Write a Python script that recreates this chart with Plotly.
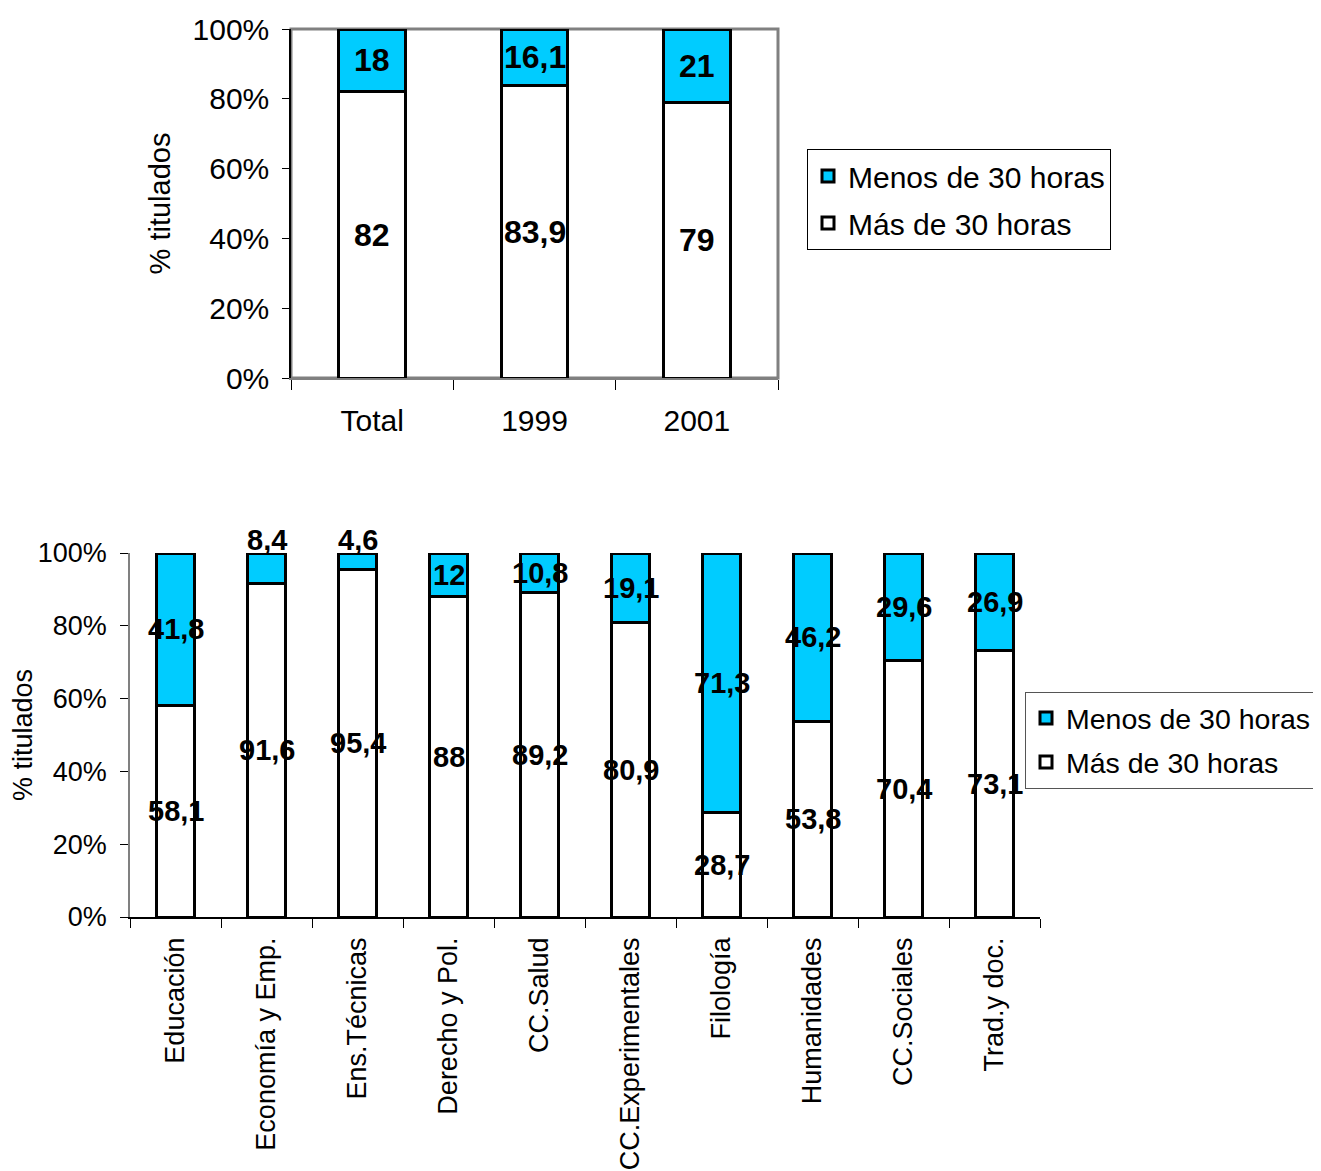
import plotly.graph_objects as go

# ---------------- data ----------------
top_categories = ["Total", "1999", "2001"]
top_menos = [18, 16.1, 21]
top_mas = [82, 83.9, 79]

bottom_categories = ["Educación", "Economía y Emp.", "Ens.Técnicas", "Derecho y Pol.",
                     "CC.Salud", "CC.Experimentales", "Filología", "Humanidades",
                     "CC.Sociales", "Trad.y doc."]
bottom_menos = [41.8, 8.4, 4.6, 12, 10.8, 19.1, 71.3, 46.2, 29.6, 26.9]
bottom_mas = [58.1, 91.6, 95.4, 88, 89.2, 80.9, 28.7, 53.8, 70.4, 73.1]

y_ticks = [0, 20, 40, 60, 80, 100]
y_ticktext = ["%d%%" % v for v in y_ticks]
name_menos = "Menos de 30 horas"
name_mas = "Más de 30 horas"
y_title = "% titulados"

CYAN = "#00CCFF"
FONT = "Liberation Sans, Arial, sans-serif"
W, H = 1321, 1171
OFF = 8  # page body margin


def px(x):
    return (x - OFF) / W


def py(y):
    return 1 - (y - OFF) / H


def fmt(v):
    return ("%g" % v).replace(".", ",")


fig = go.Figure()

line = dict(color="black", width=3)
fig.add_trace(go.Bar(x=top_categories, y=top_mas, name=name_mas, marker=dict(color="white", line=line),
                     xaxis="x", yaxis="y", legend="legend", legendgroup="a1", legendrank=2))
fig.add_trace(go.Bar(x=top_categories, y=top_menos, name=name_menos, marker=dict(color=CYAN, line=line),
                     xaxis="x", yaxis="y", legend="legend", legendgroup="m1", legendrank=1))
fig.add_trace(go.Bar(x=bottom_categories, y=bottom_mas, name=name_mas, marker=dict(color="white", line=line),
                     xaxis="x2", yaxis="y2", legend="legend2", legendgroup="a2", legendrank=2))
fig.add_trace(go.Bar(x=bottom_categories, y=bottom_menos, name=name_menos, marker=dict(color=CYAN, line=line),
                     xaxis="x2", yaxis="y2", legend="legend2", legendgroup="m2", legendrank=1))

annotations = []
for i, (a, m) in enumerate(zip(top_mas, top_menos)):
    for yv, v in ((a / 2, a), (a + m / 2, m)):
        annotations.append(dict(x=i, y=yv, xref="x", yref="y", text="<b>%s</b>" % fmt(v), showarrow=False,
                                font=dict(size=32, family=FONT, color="black")))
for i, (a, m) in enumerate(zip(bottom_mas, bottom_menos)):
    annotations.append(dict(x=i, y=a / 2, xref="x2", yref="y2", text="<b>%s</b>" % fmt(a), showarrow=False,
                            font=dict(size=29, family=FONT, color="black")))
    if m < 10:
        annotations.append(dict(x=i, y=a + m, xref="x2", yref="y2", text="<b>%s</b>" % fmt(m), showarrow=False,
                                yanchor="bottom", yshift=-5, font=dict(size=29, family=FONT, color="black")))
    else:
        annotations.append(dict(x=i, y=a + m / 2, xref="x2", yref="y2", text="<b>%s</b>" % fmt(m), showarrow=False,
                                font=dict(size=29, family=FONT, color="black")))

shapes = [dict(type="rect", xref="x domain", yref="y domain", x0=0, x1=1, y0=0, y1=1,
               line=dict(color="#808080", width=3), layer="below")]

fig.update_layout(
    width=W, height=H,
    margin=dict(l=0, r=0, t=0, b=0),
    paper_bgcolor="white", plot_bgcolor="white",
    font=dict(family=FONT, color="black"),
    barmode="stack", bargap=0.59,
    showlegend=True,
    annotations=annotations,
    shapes=shapes,
    xaxis=dict(domain=[px(291), px(778)], anchor="y", type="category", range=[-0.5, len(top_categories) - 0.5],
               showline=True, linecolor="#808080", linewidth=2,
               ticks="outside", tickson="boundaries", ticklen=10, tickcolor="black", tickangle=0,
               tickfont=dict(size=30), ticklabelstandoff=15, automargin=False, showgrid=False),
    yaxis=dict(domain=[py(378), py(29)], anchor="x", range=[0, 100],
               tickvals=y_ticks, ticktext=y_ticktext, showline=True, linecolor="black", linewidth=1.5,
               ticks="outside", ticklen=7, tickcolor="black", tickfont=dict(size=30), ticklabelstandoff=7,
               title=dict(text=y_title, font=dict(size=29), standoff=13), automargin=False, showgrid=False,
               zeroline=False),
    xaxis2=dict(domain=[px(130), px(1040)], anchor="y2", type="category",
                range=[-0.5, len(bottom_categories) - 0.5],
                showline=True, linecolor="black", linewidth=1.5,
                ticks="outside", tickson="boundaries", ticklen=9, tickcolor="black",
                tickangle=-90, tickfont=dict(size=27), ticklabelstandoff=8, automargin=False, showgrid=False),
    yaxis2=dict(domain=[py(917), py(553)], anchor="x2", range=[0, 100],
                tickvals=y_ticks, ticktext=y_ticktext, showline=True, linecolor="#808080", linewidth=1.5,
                ticks="outside", ticklen=8, tickcolor="black", tickfont=dict(size=27), ticklabelstandoff=8,
                title=dict(text=y_title, font=dict(size=27), standoff=0), automargin=False, showgrid=False,
                zeroline=False),
    legend=dict(x=px(807), y=py(149), xanchor="left", yanchor="top", traceorder="grouped",
                bgcolor="white", bordercolor="black", borderwidth=1, font=dict(size=30), tracegroupgap=5),
    legend2=dict(x=px(1025), y=py(692), xanchor="left", yanchor="top", traceorder="grouped",
                 bgcolor="white", bordercolor="#555555", borderwidth=1, font=dict(size=28.5), tracegroupgap=4),
)

fig.write_html("out.html")
